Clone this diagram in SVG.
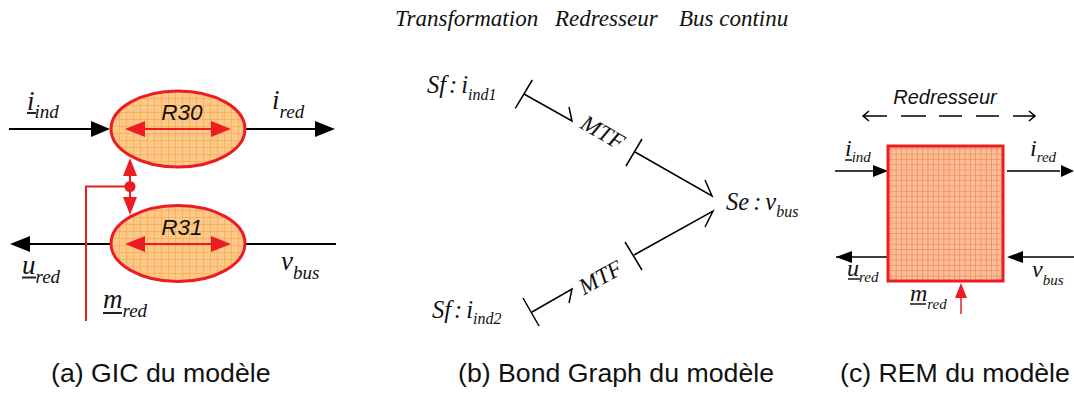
<svg xmlns="http://www.w3.org/2000/svg" width="1074" height="394" viewBox="0 0 1074 394">
<style>
.s{font-family:"Liberation Serif",serif;font-style:italic;fill:#111}
.a{font-family:"Liberation Sans",Arial,sans-serif;fill:#111;font-size:26.700px}
.ai{font-family:"Liberation Sans",Arial,sans-serif;font-style:italic;fill:#111}
.k{stroke:#000;stroke-width:2;fill:none}
.t{stroke:#000;stroke-width:1.500;fill:none}
.r{stroke:#ed1c24;stroke-width:2;fill:none}
.h{fill:url(#g);stroke:#ed1c24;stroke-width:3}
.u{stroke:#222;stroke-width:2;fill:none}
.fk{fill:#000}.fr{fill:#ed1c24}
.g1{font-size:27px}.g2{font-size:19px}
.b1{font-size:24.500px}.b2{font-size:16px}
.m1{font-size:24px}.m2{font-size:15px}
</style>
<defs>
<pattern id="g" width="7" height="7" patternUnits="userSpaceOnUse">
<rect width="7" height="7" fill="#fdc98a"/><path d="M0 0H7M0 0V7" stroke="#f7a033" stroke-width="1"/>
</pattern>
<pattern id="g2" width="5.300" height="5.300" patternUnits="userSpaceOnUse">
<rect width="5.300" height="5.300" fill="#fbbd98"/><path d="M0 0H5.300M0 0V5.300" stroke="#ec7a3e" stroke-width="1.100"/>
</pattern>
</defs>
<text class="s" y="26" font-size="23"><tspan x="395">Transformation</tspan><tspan x="555">Redresseur</tspan><tspan x="679">Bus continu</tspan></text>

<g id="connectors">
<path class="k" d="M9 129H95M244 129H320M30 244H110M244 244H336"/>
<path class="fk" d="M110 129L91 121V137ZM335 129L315 121V137ZM10 244L30 236V252Z"/>
<path class="r" d="M130 165V212M130 186.500H86V321"/>
<circle class="fr" cx="130" cy="186.500" r="5.500"/>
<path class="fr" d="M130 158L123 176H137ZM130 215L123 197H137Z"/>

<path class="t" d="M524 94L572 121L569 107"/>
<path class="t" d="M515.300 108.300L532.300 80"/>
<path class="t" d="M635 152L712 196L705 180"/>
<path class="t" d="M626 166L642 139"/>
<path class="t" d="M532 312L572 289L569 303"/>
<path class="t" d="M523 298L539 326"/>
<path class="t" d="M634 255L713 211L705 227"/>
<path class="t" d="M625 242L642 270"/>

<path class="t" d="M863 116H887M901 116H926M939 116H962M976 116H999M1013 116H1035M869 111L863 116L869 121M1029 111L1035 116L1029 121"/>
<path class="t" d="M835 171H875M1007 171H1060M836 257H888M1017 257H1074"/>
<path class="fk" d="M888 171L873 165V177ZM1074 171L1061 165V177ZM836 257L852 251V263ZM1007 257L1023 251V263Z"/>
<path class="r" style="stroke-width:1.500" d="M961 295V314"/>
<path class="fr" d="M961 283L955 298H967Z"/>
</g>

<g id="R30">
<ellipse class="h" cx="178" cy="129" rx="67" ry="38"/>
<path class="r" d="M140 129H216"/><path class="fr" d="M125 129L145 121V137ZM231 129L211 121V137Z"/>
<text class="ai" x="182" y="120" font-size="22.500" text-anchor="middle">R30</text>
</g>
<g id="R31">
<ellipse class="h" cx="178" cy="243.500" rx="67" ry="38"/>
<path class="r" d="M140 244H216"/><path class="fr" d="M125 244L145 236V252ZM231 244L211 236V252Z"/>
<text class="ai" x="182" y="235" font-size="22.500" text-anchor="middle">R31</text>
</g>
<g id="REM">
<rect x="888" y="146" width="115" height="135" fill="url(#g2)" stroke="#ed1c24" stroke-width="3"/>
</g>

<g id="gic-labels">
<text class="s g1" x="27" y="110">i<tspan class="g2" dy="8">ind</tspan></text><path class="u" d="M27 113H36"/>
<text class="s g1" x="272" y="109">i<tspan class="g2" dy="9">red</tspan></text>
<text class="s g1" x="22" y="274">u<tspan class="g2" dy="9">red</tspan></text><path class="u" d="M22 277.500H36"/>
<text class="s g1" x="281" y="270">v<tspan class="g2" dy="9">bus</tspan></text>
<text class="s g1" x="103" y="308">m<tspan class="g2" dy="9">red</tspan></text><path class="u" d="M103 313H122"/>
</g>
<g id="bond-labels">
<text class="s b1" x="427" y="93">Sf<tspan dx="3">:</tspan><tspan dx="4">i</tspan><tspan class="b2" dy="7">ind1</tspan></text>
<text class="s b1" x="432" y="318">Sf<tspan dx="3">:</tspan><tspan dx="4">i</tspan><tspan class="b2" dy="6">ind2</tspan></text>
<text class="s b1" x="726" y="210">Se<tspan dx="4">:</tspan><tspan dx="4">v</tspan><tspan class="b2" dy="7">bus</tspan></text>
<text class="s" font-size="23" text-anchor="middle" transform="translate(599 139) rotate(30)">MTF</text>
<text class="s" font-size="23" text-anchor="middle" transform="translate(604 284) rotate(-29)">MTF</text>
</g>
<g id="rem-labels">
<text class="ai" x="945" y="104" font-size="20" text-anchor="middle">Redresseur</text>
<text class="s m1" x="845" y="156">i<tspan class="m2" dy="6">ind</tspan></text><path class="u" style="stroke-width:1.600" d="M845 160H852"/>
<text class="s m1" x="1030" y="156">i<tspan class="m2" dy="6">red</tspan></text>
<text class="s m1" x="847" y="276">u<tspan class="m2" dy="6">red</tspan></text><path class="u" style="stroke-width:1.600" d="M848 279H860"/>
<text class="s m1" x="1032" y="277">v<tspan class="m2" dy="8">bus</tspan></text>
<text class="s m1" x="910" y="301">m<tspan class="m2" dy="8">red</tspan></text><path class="u" style="stroke-width:1.600" d="M910 304H926"/>
</g>
<text class="a" x="51" y="382">(a) GIC du modèle</text>
<text class="a" x="458" y="382">(b) Bond Graph du modèle</text>
<text class="a" x="840" y="382">(c) REM du modèle</text>
</svg>
